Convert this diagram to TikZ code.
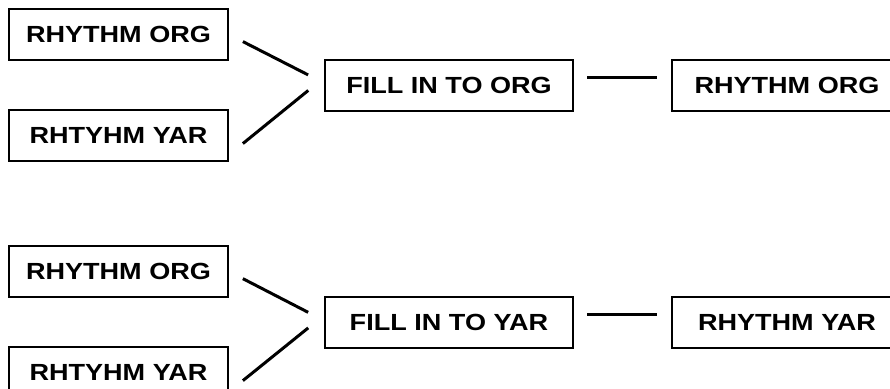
\documentclass[tikz,border=0pt]{standalone}
\usepackage{fontspec}
\setmainfont{Liberation Sans}[FakeStretch=1.16]
\usetikzlibrary{positioning}

\tikzset{
  block/.style={draw,line width=1.5pt,inner sep=0pt,minimum height=38.25pt,
    font=\fontsize{17.5}{20}\selectfont\bfseries},
  inbox/.style={block,minimum width=164.25pt},
  fillbox/.style={block,minimum width=186pt},
  outbox/.style={block,minimum width=172.5pt},
  link/.style={line width=2.25pt}
}

\begin{document}
\begin{tikzpicture}[x=0.75pt,y=-0.75pt]
  \useasboundingbox (0,0) rectangle (890,389);
  \clip (0,0) rectangle (890,389);

  % fill in to org
  \node[inbox]   (org1)             at (118.5,34.5) {RHYTHM ORG};
  \node[inbox]   (var1)  [below=36pt of org1]       {RHTYHM YAR};
  \node[fillbox] (fill1)            at (449,85)     {FILL IN TO ORG};
  \node[outbox]  (out1)  [right=72.75pt of fill1]   {RHYTHM ORG};

  \draw[link,shorten <=11.7pt,shorten >=13.4pt] (org1.east) -- ([yshift=1.5pt]fill1.west);
  \draw[link,shorten <=13.4pt,shorten >=15.2pt] ([yshift=-14.5pt]var1.east) -- ([yshift=5.5pt]fill1.west);
  \draw[link,shorten <=9.75pt,shorten >=10.5pt] ([yshift=6pt]fill1.east) -- ([yshift=6pt]out1.west);

  % fill in to yar
  \node[inbox]   (org2)             at (118.5,271.5) {RHYTHM ORG};
  \node[inbox]   (var2)  [below=36pt of org2]        {RHTYHM YAR};
  \node[fillbox] (fill2)            at (449,322.5)   {FILL IN TO YAR};
  \node[outbox]  (out2)  [right=72.75pt of fill2]    {RHYTHM YAR};

  \draw[link,shorten <=11.7pt,shorten >=13.4pt] (org2.east) -- ([yshift=1.5pt]fill2.west);
  \draw[link,shorten <=13.4pt,shorten >=15.2pt] ([yshift=-14.5pt]var2.east) -- ([yshift=5.5pt]fill2.west);
  \draw[link,shorten <=9.75pt,shorten >=10.5pt] ([yshift=6pt]fill2.east) -- ([yshift=6pt]out2.west);
\end{tikzpicture}
\end{document}
